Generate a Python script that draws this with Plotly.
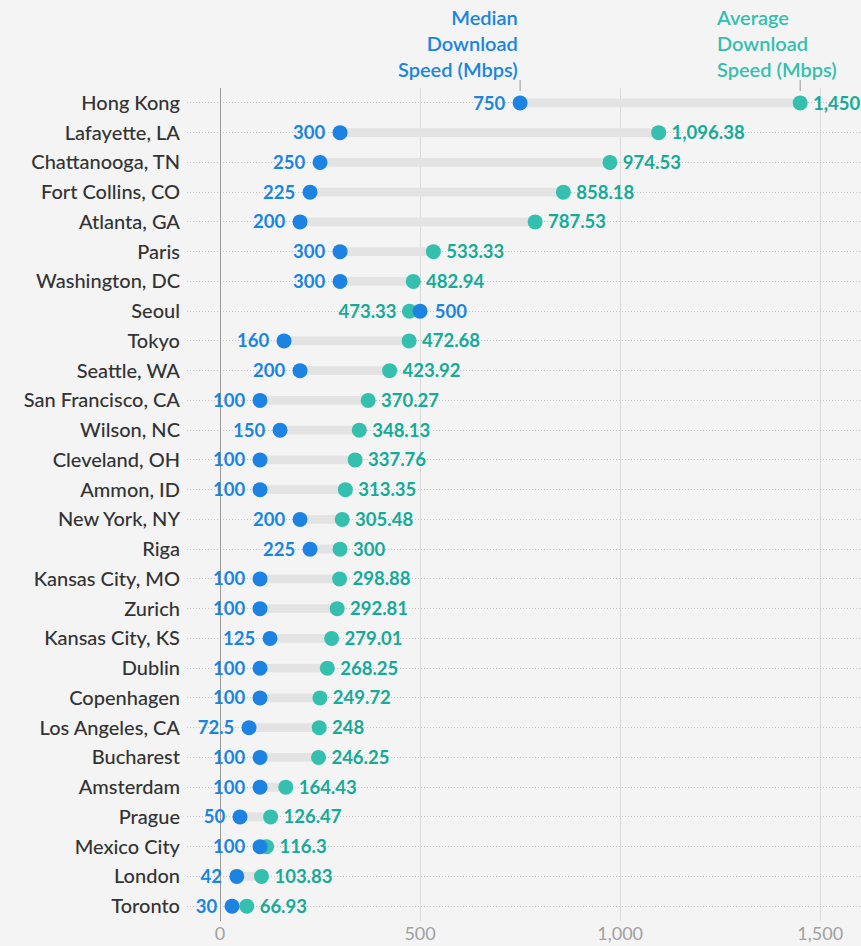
import plotly.graph_objects as go

cities = ["Hong Kong", "Lafayette, LA", "Chattanooga, TN", "Fort Collins, CO", "Atlanta, GA",
          "Paris", "Washington, DC", "Seoul", "Tokyo", "Seattle, WA", "San Francisco, CA",
          "Wilson, NC", "Cleveland, OH", "Ammon, ID", "New York, NY", "Riga", "Kansas City, MO",
          "Zurich", "Kansas City, KS", "Dublin", "Copenhagen", "Los Angeles, CA", "Bucharest",
          "Amsterdam", "Prague", "Mexico City", "London", "Toronto"]
median = [750, 300, 250, 225, 200, 300, 300, 500, 160, 200, 100, 150, 100, 100, 200, 225,
          100, 100, 125, 100, 100, 72.5, 100, 100, 50, 100, 42, 30]
average = [1450, 1096.38, 974.53, 858.18, 787.53, 533.33, 482.94, 473.33, 472.68, 423.92,
           370.27, 348.13, 337.76, 313.35, 305.48, 300, 298.88, 292.81, 279.01, 268.25,
           249.72, 248, 246.25, 164.43, 126.47, 116.3, 103.83, 66.93]
x_ticks = [0, 500, 1000, 1500]
x_ticktext = ["0", "500", "1,000", "1,500"]

FONT = "Lato"
BLUE_DOT = "#1c83e3"
TEAL_DOT = "#35bfae"
BLUE_TXT = "#1a85e0"
TEAL_TXT = "#16aa98"
BG = "#f4f4f4"


def fmt(v):
    s = f"{v:,.2f}".rstrip("0").rstrip(".")
    return s


lo = [min(m, a) for m, a in zip(median, average)]
span = [abs(a - m) for m, a in zip(median, average)]
med_pos = ["middle left" if m <= a else "middle right" for m, a in zip(median, average)]
avg_pos = ["middle right" if m <= a else "middle left" for m, a in zip(median, average)]

n = len(cities)
label_shift = 0.067  # ~2px, centres digit glyphs on the dots

fig = go.Figure()
fig.add_trace(go.Bar(y=cities, x=span, base=lo, orientation="h", width=0.3,
                     marker=dict(color="#e3e3e3", line=dict(width=0)), hoverinfo="skip"))
fig.add_trace(go.Scatter(y=cities, x=average, mode="markers",
                         marker=dict(size=15, color=TEAL_DOT, line=dict(width=0))))
fig.add_trace(go.Scatter(y=cities, x=median, mode="markers",
                         marker=dict(size=15, color=BLUE_DOT, line=dict(width=0))))
# labels (invisible larger markers set the text offset)
fig.add_trace(go.Scatter(y=cities, x=average, mode="markers+text", yaxis="y2",
                         text=[fmt(v) for v in average], textposition=avg_pos,
                         textfont=dict(family=FONT, size=18.5, color=TEAL_TXT, weight=700),
                         marker=dict(size=19, color="rgba(0,0,0,0)"), cliponaxis=False))
fig.add_trace(go.Scatter(y=cities, x=median, mode="markers+text", yaxis="y2",
                         text=[fmt(v) for v in median], textposition=med_pos,
                         textfont=dict(family=FONT, size=18.5, color=BLUE_TXT, weight=700),
                         marker=dict(size=22, color="rgba(0,0,0,0)"), cliponaxis=False))

fig.update_layout(
    width=861, height=946,
    paper_bgcolor=BG, plot_bgcolor=BG,
    margin=dict(l=187, r=0, t=88, b=25, autoexpand=False),
    showlegend=False, barmode="overlay",
    font=dict(family=FONT),
    xaxis=dict(range=[-82.5, 1602], tickvals=x_ticks, ticktext=x_ticktext,
               showgrid=True, gridcolor="#d9d9d9", gridwidth=1,
               zeroline=True, zerolinecolor="#9a9a9a", zerolinewidth=1,
               tickfont=dict(family=FONT, size=18, color="#a0a0a0"),
               showline=False, ticks="", fixedrange=True),
    yaxis=dict(type="category", categoryorder="array", categoryarray=cities,
               range=[n - 0.5, -0.5],
               showgrid=True, gridcolor="#c4c4c4", gridwidth=1, griddash="1px,2px",
               tickfont=dict(family=FONT, size=20, color="#333333", weight=500),
               ticks="", ticklabelstandoff=6, showline=False, zeroline=False,
               fixedrange=True),
    yaxis2=dict(type="category", categoryorder="array", categoryarray=cities,
                overlaying="y", range=[n - 0.5 - label_shift, -0.5 - label_shift],
                visible=False, showgrid=False, fixedrange=True),
)

fig.add_annotation(x=median[0], xref="x", y=1.006, yref="paper", xanchor="right", yanchor="bottom",
                   text="Median<br>Download<br>Speed (Mbps)", align="right", showarrow=False,
                   font=dict(family=FONT, size=20, color=BLUE_TXT, weight=600))
fig.add_annotation(x=average[0], xref="x", y=1.006, yref="paper", xanchor="left", yanchor="bottom",
                   xshift=-86, text="Average<br>Download<br>Speed (Mbps)", align="left",
                   showarrow=False,
                   font=dict(family=FONT, size=20, color=TEAL_DOT, weight=600))
for v in (median[0], average[0]):
    fig.add_shape(type="line", xref="x", yref="paper", x0=v, x1=v, y0=0.9964, y1=1.0096,
                  line=dict(color="#999999", width=1))

fig.write_html("out.html", config={"displayModeBar": False},
               post_script="document.body.style.margin='0px';document.body.style.background='%s';" % BG)
